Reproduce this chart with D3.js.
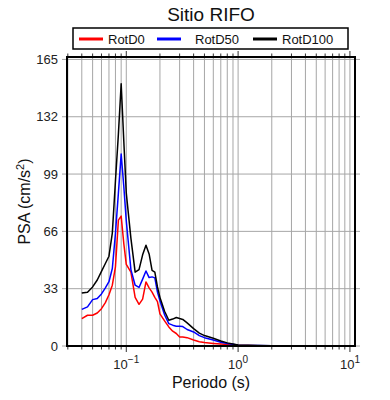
<!DOCTYPE html>
<html>
<head>
<meta charset="utf-8">
<script src="https://cdn.jsdelivr.net/npm/d3@7"></script>
<style>
  body { margin: 0; background: #fff; }
  svg { font-family: "Liberation Sans", Arial, sans-serif; }
</style>
</head>
<body>
<script>
var periods = [0.04, 0.045, 0.05, 0.055, 0.06, 0.065, 0.07, 0.075, 0.08, 0.085, 0.09, 0.095,
  0.1, 0.11, 0.12, 0.13, 0.14, 0.15, 0.16, 0.17, 0.18, 0.19, 0.2, 0.22, 0.24, 0.26, 0.28,
  0.3, 0.32, 0.35, 0.4, 0.45, 0.5, 0.6, 0.7, 0.8, 0.9, 1.0, 1.5, 2, 3, 5, 11];
var rotD0 = [15.8, 17.7, 17.7, 19, 21.5, 25, 29.5, 35, 45.5, 72.5, 74.8, 59,
  47, 42.5, 28, 24, 27, 36.9, 33.5, 31, 28, 25.5, 18.5, 14.5, 11, 8.5, 7.2,
  5.2, 5.2, 4.8, 3.5, 2.5, 2.0, 1.5, 1.1, 0.8, 0.6, 0.4, 0.2, 0.1, 0.05, 0.02, 0.01];
var rotD50 = [21.1, 22.5, 26.7, 27.3, 30, 33.5, 37, 44.6, 64.8, 88, 110.5, 92,
  72, 44, 35, 33.7, 38.5, 43.2, 39.4, 39.8, 39.2, 31, 26, 18, 12.9, 12, 11.4,
  11.4, 11.2, 9.5, 8.1, 6, 4.8, 3.5, 2.2, 1.5, 1.0, 0.5, 0.25, 0.12, 0.05, 0.02, 0.01];
var rotD100 = [30.5, 31, 34, 38, 43, 47.5, 51.7, 65, 95, 122, 151, 118,
  88, 62, 42.5, 44, 52.5, 58, 53, 43.5, 42.5, 34, 28, 20, 14.8, 15.5, 16.4,
  15.8, 15.3, 13.3, 10, 7.4, 6.0, 4.5, 2.9, 1.8, 1.2, 0.6, 0.3, 0.15, 0.06, 0.02, 0.01];
var yTicks = [0, 33, 66, 99, 132, 165];
var xMajor = [{v: 0.1, e: "\u22121"}, {v: 1, e: "0"}, {v: 10, e: "1"}];
var series = [
  {name: "RotD0", color: "#ff0000", values: rotD0},
  {name: "RotD50", color: "#0000ff", values: rotD50},
  {name: "RotD100", color: "#000000", values: rotD100}
];

var W = 390, H = 400,
    m = {left: 67, right: 35, top: 57, bottom: 54},
    w = W - m.left - m.right,
    h = H - m.top - m.bottom;

var svg = d3.select("body").append("svg").attr("width", W).attr("height", H);

var x = d3.scaleLog().domain([0.0295, 11.1]).range([0, w]);
var y = d3.scaleLinear().domain([0, 166.4]).range([h, 0]);

var g = svg.append("g").attr("transform", "translate(" + m.left + "," + m.top + ")");

// minor positions for log grid
var minors = [];
[0.01, 0.1, 1, 10].forEach(function(d) {
  for (var k = 1; k <= 9; k++) {
    var v = d * k;
    if (v >= x.domain()[0] && v <= x.domain()[1]) minors.push(v);
  }
});

// vertical grid
g.selectAll(".vgrid").data(minors).enter().append("line")
  .attr("x1", function(d) { return x(d); }).attr("x2", function(d) { return x(d); })
  .attr("y1", 0).attr("y2", h)
  .attr("stroke", "#a6a6a6").attr("stroke-width", 1);

// horizontal grid, extended out as ticks
g.selectAll(".hgrid").data(yTicks).enter().append("line")
  .attr("x1", -5).attr("x2", w + 5)
  .attr("y1", function(d) { return y(d); }).attr("y2", function(d) { return y(d); })
  .attr("stroke", "#a6a6a6").attr("stroke-width", 1);

// x ticks top and bottom
function isMajor(v) { return Math.abs(Math.log10(v) - Math.round(Math.log10(v))) < 1e-6; }
[0, h].forEach(function(yy) {
  var dir = yy === 0 ? -1 : 1;
  g.selectAll(null).data(minors).enter().append("line")
    .attr("x1", function(d) { return x(d); }).attr("x2", function(d) { return x(d); })
    .attr("y1", yy).attr("y2", function(d) { return yy + dir * (isMajor(d) ? 6 : 3.5); })
    .attr("stroke", "#333").attr("stroke-width", 1);
});

// curves
var line = d3.line()
  .x(function(d) { return x(d[0]); })
  .y(function(d) { return y(d[1]); });

var clip = svg.append("clipPath").attr("id", "clip")
  .append("rect").attr("width", w).attr("height", h);

g.append("g").attr("clip-path", "url(#clip)")
  .selectAll("path").data(series).enter().append("path")
  .attr("d", function(s) { return line(periods.map(function(p, i) { return [p, s.values[i]]; })); })
  .attr("fill", "none")
  .attr("stroke", function(s) { return s.color; })
  .attr("stroke-width", 1.5)
  .attr("stroke-linejoin", "round");

// frame
g.append("rect").attr("width", w).attr("height", h)
  .attr("fill", "none").attr("stroke", "#000").attr("stroke-width", 2);

// y tick labels
g.selectAll(".ylab").data(yTicks).enter().append("text")
  .attr("x", -9).attr("y", function(d) { return y(d); })
  .attr("dy", "0.35em").attr("text-anchor", "end")
  .attr("font-size", 13).attr("fill", "#222")
  .text(function(d) { return d; });

// x tick labels
var xl = g.selectAll(".xlab").data(xMajor).enter().append("text")
  .attr("x", function(d) { return x(d.v); }).attr("y", h + 23)
  .attr("text-anchor", "middle").attr("font-size", 13).attr("fill", "#222");
xl.append("tspan").text("10");
xl.append("tspan").attr("dy", -6).attr("font-size", 10).text(function(d) { return d.e; });

// axis titles
svg.append("text").attr("x", m.left + w / 2).attr("y", 388)
  .attr("text-anchor", "middle").attr("font-size", 16).attr("fill", "#111")
  .text("Periodo (s)");

var yt = svg.append("text")
  .attr("transform", "translate(30," + (m.top + h / 2) + ") rotate(-90)")
  .attr("text-anchor", "middle").attr("font-size", 16).attr("fill", "#111");
yt.append("tspan").text("PSA (cm/s");
yt.append("tspan").attr("dy", -6).attr("font-size", 11).text("2");
yt.append("tspan").attr("dy", 6).text(")");

// title
svg.append("text").attr("x", m.left + w / 2).attr("y", 21)
  .attr("text-anchor", "middle").attr("font-size", 19).attr("fill", "#111")
  .text("Sitio RIFO");

// legend
var leg = svg.append("g");
leg.append("rect").attr("x", 73).attr("y", 28).attr("width", 275).attr("height", 21)
  .attr("fill", "#fff").attr("stroke", "#000").attr("stroke-width", 1.5);
var legX = [79, 157, 253];
var legItem = leg.selectAll(".li").data(series).enter().append("g")
  .attr("transform", function(d, i) { return "translate(" + legX[i] + ",0)"; });
legItem.append("line").attr("x1", 0).attr("x2", 24).attr("y1", 39).attr("y2", 39)
  .attr("stroke", function(d) { return d.color; }).attr("stroke-width", 3);
legItem.append("text").attr("x", function(d, i) { return i === 1 ? 38 : 29; }).attr("y", 44)
  .attr("font-size", 13).attr("fill", "#111")
  .text(function(d) { return d.name; });
</script>
</body>
</html>
